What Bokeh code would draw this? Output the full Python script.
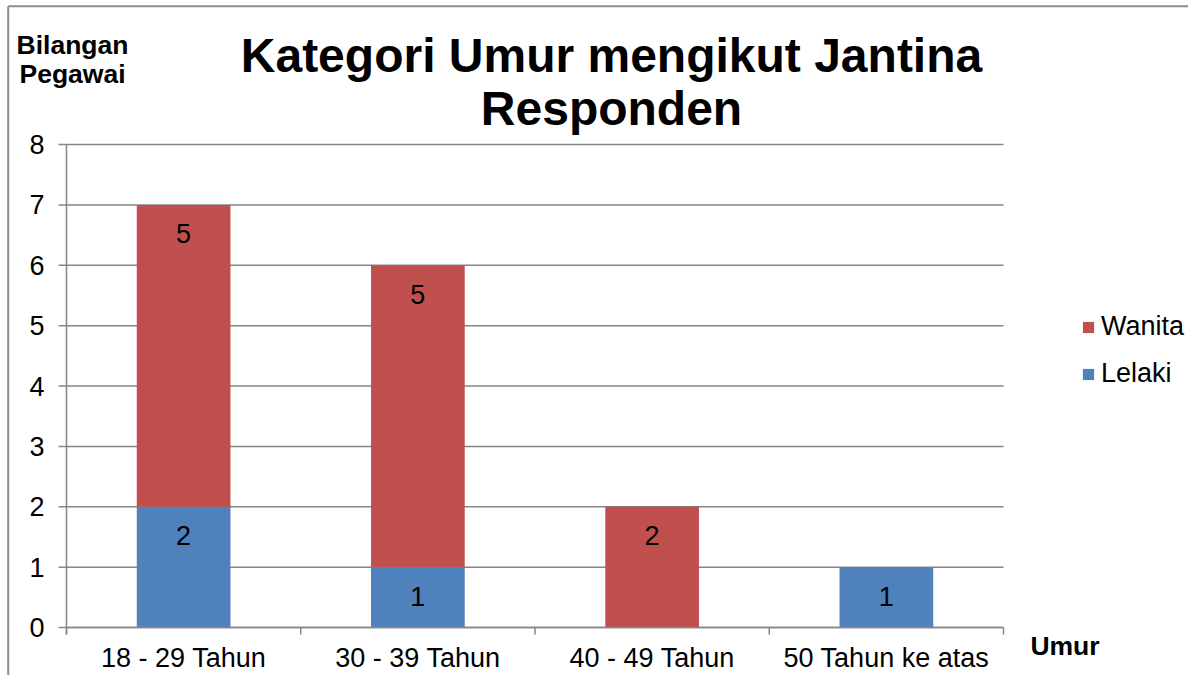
import numpy as np
from bokeh.plotting import figure
from bokeh.models import Range1d, ColumnDataSource, Legend, LegendItem
from bokeh.core.properties import value
from bokeh.embed import file_html
from bokeh.resources import INLINE

# ---- data ----
categories = ["18 - 29 Tahun", "30 - 39 Tahun", "40 - 49 Tahun", "50 Tahun ke atas"]
lelaki = [2, 1, 0, 1]
wanita = [5, 5, 2, 0]
series_names = ["Lelaki", "Wanita"]
y_ticks = [0, 1, 2, 3, 4, 5, 6, 7, 8]
y_tick_labels = [str(t) for t in y_ticks]
title_lines = ["Kategori Umur mengikut Jantina", "Responden"]
y_title_lines = ["Bilangan", "Pegawai"]
x_title = "Umur"

# ---- styling / layout ----
FONT = "Liberation Sans"
BLUE = "#4F81BD"
RED = "#C0504D"
GRAY = "#868686"
BORDER = "#8C8C8C"

W, H = 1188, 675
PL, PR, PT, PB = 66, 1003, 144, 627   # plot area edges in pixels
n = len(categories)
ymax = y_ticks[-1]

def fx(px):
    return (px - PL) * n / (PR - PL)

def fy(py):
    return (PB - py) * ymax / (PB - PT)

p = figure(width=W, height=H, output_backend="svg", toolbar_location=None,
           title=None, x_range=Range1d(fx(0), fx(W)), y_range=Range1d(fy(H), fy(0)),
           min_border=0)
p.axis.visible = False
p.grid.visible = False
p.outline_line_color = None
p.background_fill_color = "white"
p.border_fill_color = "white"

xpos = np.arange(n) + 0.5
cat_edges = np.arange(n + 1)

# chart border (top and left edges visible)
p.segment(x0=[fx(7.7), fx(7.7)], y0=[fy(5.7), fy(5.7)],
          x1=[fx(W), fx(7.7)], y1=[fy(5.7), fy(H)],
          line_color=BORDER, line_width=2)

# horizontal gridlines
p.segment(x0=[0] * len(y_ticks), y0=y_ticks, x1=[n] * len(y_ticks), y1=y_ticks,
          line_color=GRAY, line_width=1.5)

# stacked bars
src = ColumnDataSource(dict(x=xpos, Lelaki=lelaki, Wanita=wanita))
rs = p.vbar_stack(series_names, x="x", width=0.4, source=src,
                  color=[BLUE, RED], line_color=None)

# axes lines and ticks
p.segment(x0=[0], y0=[fy(PB + 7)], x1=[0], y1=[ymax], line_color=GRAY, line_width=1.5)
p.segment(x0=[0], y0=[0], x1=[n], y1=[0], line_color=GRAY, line_width=1.5)
p.segment(x0=[fx(PL - 8)] * len(y_ticks), y0=y_ticks, x1=[0] * len(y_ticks), y1=y_ticks,
          line_color=GRAY, line_width=1.5)
p.segment(x0=cat_edges, y0=[0] * (n + 1), x1=cat_edges, y1=[fy(PB + 7)] * (n + 1),
          line_color=GRAY, line_width=1.5)

# tick labels
p.text(x=[fx(44)] * len(y_ticks), y=y_ticks, text=y_tick_labels, text_align="right",
       text_baseline="middle", text_font=value(FONT),
       text_font_size="27px", text_color="black")
p.text(x=xpos, y=[0] * n, text=categories, text_align="center",
       text_baseline="middle", y_offset=30.5, text_font=value(FONT),
       text_font_size="27px", text_color="black")

# value labels (inside end)
lx, ly, lt = [], [], []
bottom = np.zeros(n)
for vals in (lelaki, wanita):
    top = bottom + np.array(vals)
    for i, v in enumerate(vals):
        if v > 0:
            lx.append(xpos[i]); ly.append(top[i]); lt.append(str(v))
    bottom = top
p.text(x=lx, y=ly, text=lt, text_align="center", text_baseline="middle",
       y_offset=29, text_font=value(FONT), text_font_size="27px", text_color="black")

# titles
p.text(x=[fx(611)] * 2, y=[fy(54.5), fy(107.5)], text=title_lines, text_align="center",
       text_baseline="middle", text_font=value(FONT), text_font_size="48px",
       text_font_style="bold", text_color="black")
p.text(x=[fx(72)] * 2, y=[fy(44), fy(73.5)], text=y_title_lines, text_align="center",
       text_baseline="middle", text_font=value(FONT), text_font_size="26.5px",
       text_font_style="bold", text_color="black")
p.text(x=[fx(1064.5)], y=[fy(645)], text=[x_title], text_align="center",
       text_baseline="middle", text_font=value(FONT), text_font_size="26.5px",
       text_font_style="bold", text_color="black")

# legend
legend = Legend(items=[LegendItem(label=series_names[1], renderers=[rs[1]]),
                       LegendItem(label=series_names[0], renderers=[rs[0]])],
                location=(1081, H - 389))
legend.padding = 0
legend.margin = 0
legend.border_line_color = None
legend.background_fill_alpha = 0
legend.glyph_width = 14
legend.glyph_height = 14
legend.label_height = 30
legend.spacing = 16
legend.label_standoff = 6
legend.label_text_font = FONT
legend.label_text_font_size = "27px"
legend.label_text_color = "black"
p.add_layout(legend, "center")

open("out.html", "w").write(file_html(p, INLINE))
